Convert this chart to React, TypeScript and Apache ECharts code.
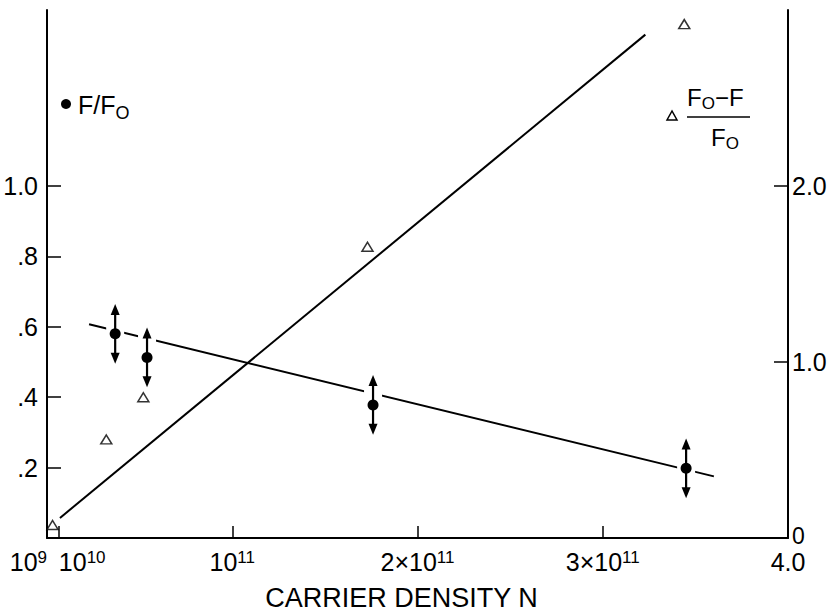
import React, { useEffect, useRef } from 'react';
import * as echarts from 'echarts';

// Carrier density N in units of 1e11 (linear axis, 0..4)
const fNValues = [0.368, 0.54, 1.76, 3.45];
const fRatio = [0.58, 0.513, 0.378, 0.198];
const fErr = [0.085, 0.085, 0.085, 0.085];

const triNValues = [0.03, 0.32, 0.52, 1.73, 3.44];
const triValues = [0.074, 0.56, 0.8, 1.655, 2.92];

const fFitLine = [[0.227, 0.607], [3.6, 0.175]];
const triFitLine = [[0.07, 0.114], [3.23, 2.86]];

const xTickLabels = ['10^9', '10^10', '10^11', '2×10^11', '3×10^11', '4.0'];
const xLabelValues = [0, 0.19, 1, 2, 3, 4];
const xTickValues = [0.065, 1, 2, 3];
const leftTickValues = [0.2, 0.4, 0.6, 0.8, 1.0];
const leftTickLabels = ['.2', '.4', '.6', '.8', '1.0'];
const rightTickValues = [1, 2];
const rightLabelValues = [0, 1, 2];
const rightTickLabels = ['0', '1.0', '2.0'];

const FONT = '"Liberation Sans", Arial, sans-serif';

export default function App() {
  const ref = useRef<HTMLDivElement>(null);
  useEffect(() => {
    if (!ref.current) return;
    const chart = echarts.init(ref.current, null, { renderer: 'svg' });
    const fmtX = (v: number) => {
      const i = xLabelValues.findIndex((t) => Math.abs(t - v) < 1e-6);
      if (i < 0) return '';
      const lab = xTickLabels[i];
      const parts = lab.split('^');
      let s = '{b|' + parts[0] + '}';
      if (parts[1]) s += '{s|' + parts[1] + '}';
      return s;
    };
    const option: any = {
      animation: false,
      backgroundColor: '#fff',
      grid: { left: 47, right: 47, top: 10, bottom: 74, containLabel: false, outerBoundsMode: 'none' },
      xAxis: {
        type: 'value',
        min: 0,
        max: 4,
        splitLine: { show: false },
        axisLine: { show: true, onZero: false, lineStyle: { color: '#000', width: 2 } },
        axisTick: { show: true, inside: true, length: 12, customValues: xTickValues, lineStyle: { color: '#000', width: 1.5 } },
        axisLabel: {
          customValues: xLabelValues,
          showMinLabel: true,
          showMaxLabel: true,
          hideOverlap: false,
          alignMinLabel: 'right',
          margin: 11,
          formatter: fmtX,
          color: '#000',
          rich: {
            b: { fontSize: 25, fontFamily: FONT, color: '#000', lineHeight: 25, verticalAlign: 'bottom' },
            s: { fontSize: 17, fontFamily: FONT, color: '#000', lineHeight: 17, padding: [0, 0, 14, 0], verticalAlign: 'top' },
          },
        },
        name: 'CARRIER DENSITY N',
        nameLocation: 'middle',
        nameGap: 42,
        nameTextStyle: { fontSize: 27, fontFamily: FONT, color: '#000', padding: [0, 32, 0, 0] },
      },
      yAxis: [
        {
          type: 'value',
          min: 0,
          max: 1.5,
          position: 'left',
          splitLine: { show: false },
          axisLine: { show: true, onZero: false, lineStyle: { color: '#000', width: 2 } },
          axisTick: { show: true, inside: true, length: 14, customValues: leftTickValues, lineStyle: { color: '#000', width: 1.5 } },
          axisLabel: {
            customValues: leftTickValues,
            margin: 9,
            fontSize: 25,
            fontFamily: FONT,
            color: '#000',
            formatter: (v: number) => {
              const i = leftTickValues.findIndex((t) => Math.abs(t - v) < 1e-6);
              return i < 0 ? '' : leftTickLabels[i];
            },
          },
        },
        {
          type: 'value',
          min: 0,
          max: 3,
          position: 'right',
          splitLine: { show: false },
          axisLine: { show: true, onZero: false, lineStyle: { color: '#000', width: 2 } },
          axisTick: { show: true, inside: true, length: 14, customValues: rightTickValues, lineStyle: { color: '#000', width: 1.5 } },
          axisLabel: {
            customValues: rightLabelValues,
            showMinLabel: true,
            hideOverlap: false,
            margin: 4,
            verticalAlign: 'middle',
            verticalAlignMinLabel: 'middle',
            color: '#000',
            formatter: (v: number) => {
              const i = rightLabelValues.findIndex((t) => Math.abs(t - v) < 1e-6);
              if (i < 0) return '';
              return i === 0 ? '{z|' + rightTickLabels[i] + '}' : '{n|' + rightTickLabels[i] + '}';
            },
            rich: {
              n: { fontSize: 25, fontFamily: FONT, color: '#000', lineHeight: 19 },
              z: { fontSize: 23, fontFamily: FONT, color: '#000', lineHeight: 17, padding: [0, 0, 4, 0] },
            },
          },
        },
      ],
      series: [
        {
          type: 'line',
          name: 'F/F0 fit',
          yAxisIndex: 0,
          data: fFitLine,
          showSymbol: false,
          symbol: 'none',
          lineStyle: { color: '#000', width: 2 },
          z: 2,
        },
        {
          type: 'line',
          name: '(F0-F)/F0 fit',
          yAxisIndex: 1,
          data: triFitLine,
          showSymbol: false,
          symbol: 'none',
          lineStyle: { color: '#000', width: 2 },
          z: 2,
        },
        {
          type: 'scatter',
          name: '(F0-F)/F0',
          yAxisIndex: 1,
          data: triNValues.map((n, i) => [n, triValues[i]]),
          symbol: 'triangle',
          symbolSize: [11, 9],
          itemStyle: { color: '#fff', borderColor: '#000', borderWidth: 1.5 },
          z: 4,
        },
        {
          type: 'custom',
          name: 'F/F0',
          yAxisIndex: 0,
          data: fNValues.map((n, i) => [n, fRatio[i], fErr[i]]),
          encode: { x: 0, y: 1 },
          z: 5,
          renderItem: (params: any, api: any) => {
            const x = api.value(0);
            const y = api.value(1);
            const e = api.value(2);
            const p = api.coord([x, y]);
            const top = api.coord([x, y + e]);
            const bot = api.coord([x, y - e]);
            const cx = p[0];
            return {
              type: 'group',
              children: [
                { type: 'rect', shape: { x: cx - 9, y: top[1], width: 18, height: bot[1] - top[1] }, style: { fill: '#fff' } },
                { type: 'line', shape: { x1: cx, y1: top[1] + 8, x2: cx, y2: bot[1] - 8 }, style: { stroke: '#000', lineWidth: 2.2 } },
                { type: 'polygon', shape: { points: [[cx, top[1]], [cx - 4.5, top[1] + 11], [cx + 4.5, top[1] + 11]] }, style: { fill: '#000' } },
                { type: 'polygon', shape: { points: [[cx, bot[1]], [cx - 4.5, bot[1] - 11], [cx + 4.5, bot[1] - 11]] }, style: { fill: '#000' } },
                { type: 'circle', shape: { cx, cy: p[1], r: 5.5 }, style: { fill: '#000' } },
              ],
            };
          },
        },
      ],
      graphic: [
        { type: 'circle', shape: { cx: 66, cy: 104, r: 5 }, style: { fill: '#000' } },
        {
          type: 'text',
          x: 78,
          y: 92,
          style: {
            text: '{b|F/F}{s|O}',
            rich: {
              b: { fontSize: 25, fontFamily: FONT, fill: '#000', lineHeight: 25, verticalAlign: 'top' },
              s: { fontSize: 18, fontFamily: FONT, fill: '#000', lineHeight: 18, padding: [12, 0, 0, 0], verticalAlign: 'top' },
            },
          },
        },
        { type: 'polygon', shape: { points: [[672, 111], [667, 120], [677, 120]] }, style: { fill: '#fff', stroke: '#000', lineWidth: 1.5 } },
        {
          type: 'text',
          x: 687,
          y: 85,
          style: {
            text: '{b|F}{s|O}{b|−F}',
            rich: {
              b: { fontSize: 24, fontFamily: FONT, fill: '#000', lineHeight: 24, verticalAlign: 'top' },
              s: { fontSize: 17, fontFamily: FONT, fill: '#000', lineHeight: 17, padding: [10, 0, 0, 0], verticalAlign: 'top' },
            },
          },
        },
        { type: 'line', shape: { x1: 687, y1: 117, x2: 750, y2: 117 }, style: { stroke: '#000', lineWidth: 1.5 } },
        {
          type: 'text',
          x: 711,
          y: 125,
          style: {
            text: '{b|F}{s|O}',
            rich: {
              b: { fontSize: 24, fontFamily: FONT, fill: '#000', lineHeight: 24, verticalAlign: 'top' },
              s: { fontSize: 17, fontFamily: FONT, fill: '#000', lineHeight: 17, padding: [10, 0, 0, 0], verticalAlign: 'top' },
            },
          },
        },
      ],
    };
    chart.setOption(option);
    return () => chart.dispose();
  }, []);
  return (
    <div
      ref={ref}
      style={{ position: 'fixed', left: 0, top: 0, width: 835, height: 612, background: '#fff' }}
    />
  );
}
